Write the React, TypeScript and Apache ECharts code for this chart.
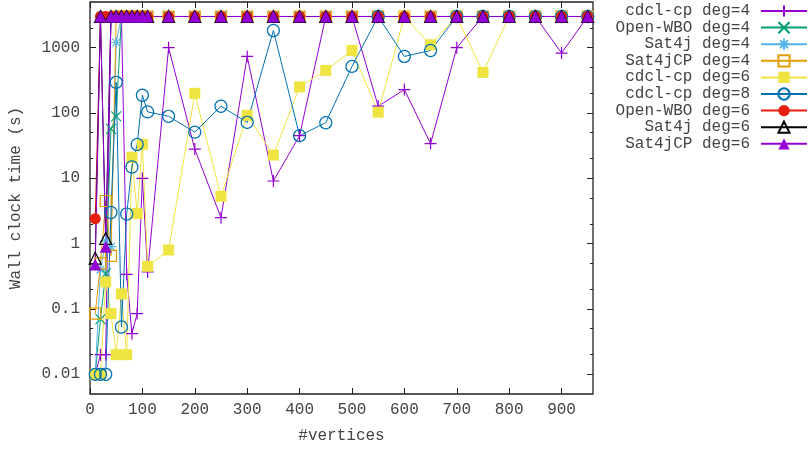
import React, { useEffect, useRef } from 'react';
import * as echarts from 'echarts';

const FONT = "'Courier New', 'Liberation Mono', monospace";
const TEXT = '#444444';
const TO = 3000; // timeout value

const vertices = [10, 20, 30, 40, 50, 60, 70, 80, 90, 100, 110, 150, 200, 250, 300, 350, 400, 450, 500, 550, 600, 650, 700, 750, 800, 850, 900, 950];

const cdclDeg4 = [0.01, 0.02, 0.02, TO, TO, TO, 0.34, 0.042, 0.085, 10, 0.37, 1000, 28, 2.5, 734, 9.1, 45, TO, TO, 127, 228, 34, 1000, TO, TO, TO, 827, TO];
const openWboDeg4 = [0.01, 0.07, 0.35, 57, 89, TO, TO, TO, TO, TO, TO, TO, TO, TO, TO, TO, TO, TO, TO, TO, TO, TO, TO, TO, TO, TO, TO, TO];
const sat4jDeg4 = [0.01, 0.4, 1.1, 0.9, 1200, TO, TO, TO, TO, TO, TO, TO, TO, TO, TO, TO, TO, TO, TO, TO, TO, TO, TO, TO, TO, TO, TO, TO];
const sat4jcpDeg4 = [0.085, 0.5, 4.5, 0.65, TO, TO, TO, TO, TO, TO, TO, TO, TO, TO, TO, TO, TO, TO, TO, TO, TO, TO, TO, TO, TO, TO, TO, TO];
const cdclDeg6 = [0.01, 0.01, 0.26, 0.085, 0.02, 0.17, 0.02, 21, 2.9, 33, 0.45, 0.8, 200, 5.3, 92, 22.7, 251, 449, 906, 103, TO, 1107, TO, 418, TO, TO, TO, TO];
const cdclDeg8 = [0.01, 0.01, 0.01, 3.0, 295, 0.053, 2.84, 14.9, 33, 187, 104, 89, 51, 127, 72, 1830, 45, 71, 517, TO, 734, 906, TO, TO, TO, TO, TO, TO];
const openWboDeg6 = [2.4, TO, TO, TO, TO, TO, TO, TO, TO, TO, TO, TO, TO, TO, TO, TO, TO, TO, TO, TO, TO, TO, TO, TO, TO, TO, TO, TO];
const sat4jDeg6 = [0.6, TO, 1.2, TO, TO, TO, TO, TO, TO, TO, TO, TO, TO, TO, TO, TO, TO, TO, TO, TO, TO, TO, TO, TO, TO, TO, TO, TO];
const sat4jcpDeg6 = [0.48, TO, 0.9, TO, TO, TO, TO, TO, TO, TO, TO, TO, TO, TO, TO, TO, TO, TO, TO, TO, TO, TO, TO, TO, TO, TO, TO, TO];

const xTicks = [0, 100, 200, 300, 400, 500, 600, 700, 800, 900];
const yMajor = [0.01, 0.1, 1, 10, 100, 1000];
const yMajorLabels = ['0.01', '0.1', '1', '10', '100', '1000'];
const yMinor = [0.02, 0.05, 0.2, 0.5, 2, 5, 20, 50, 200, 500, 2000];

const PLUS = 'path://M5,0L5,10M0,5L10,5';
const CROSS = 'path://M0,0L10,10M0,10L10,0';
const STAR = 'path://M5,0L5,10M0,5L10,5M1.5,1.5L8.5,8.5M1.5,8.5L8.5,1.5';

export default function App() {
  const ref = useRef<HTMLDivElement>(null);
  useEffect(() => {
    const chart = echarts.init(ref.current as HTMLDivElement, null, { renderer: 'svg' });
    const pair = (ys: number[]) => vertices.map((x, i) => [x, ys[i]]);
    const mk = (name: string, ys: number[], color: string, symbol: string, size: number, filled: boolean) => ({
      type: 'line',
      name,
      data: pair(ys),
      symbol,
      symbolSize: size,
      showSymbol: true,
      showAllSymbol: true,
      lineStyle: { color, width: 1 },
      itemStyle: filled
        ? { color, borderWidth: 0 }
        : { color: 'rgba(255,255,255,0)', borderColor: color, borderWidth: 1.2 },
      emphasis: { disabled: true },
      clip: true,
    });
    const tickStyle = { color: '#222', width: 1 };
    const yBase = {
      type: 'log',
      logBase: 10,
      min: 0.005,
      max: 5000,
      axisLine: { show: false },
      splitLine: { show: false },
    };
    chart.setOption({
      animation: false,
      textStyle: { fontFamily: FONT },
      grid: {
        left: 88.5,
        top: 2,
        width: 504.5,
        height: 392,
        show: true,
        borderColor: '#222',
        borderWidth: 1.3,
        backgroundColor: 'transparent',
      },
      legend: {
        orient: 'vertical',
        right: 0,
        top: 3,
        padding: 0,
        align: 'right',
        itemWidth: 46,
        itemHeight: 14,
        itemGap: 0.6,
        selectedMode: false,
        textStyle: { fontFamily: FONT, fontSize: 16, color: TEXT, padding: [0, 6, 0, 0], lineHeight: 16 },
      },
      xAxis: [
        {
          type: 'value',
          min: 0,
          max: 960,
          interval: 100,
          position: 'bottom',
          axisLine: { show: false },
          splitLine: { show: false },
          axisTick: { inside: true, length: 6, lineStyle: tickStyle, customValues: xTicks },
          axisLabel: { customValues: xTicks, color: TEXT, fontFamily: FONT, fontSize: 16, margin: 8 },
          name: '#vertices',
          nameLocation: 'middle',
          nameGap: 34,
          nameTextStyle: { color: TEXT, fontFamily: FONT, fontSize: 16 },
        },
        {
          type: 'value',
          min: 0,
          max: 960,
          interval: 100,
          position: 'top',
          axisLine: { show: false },
          splitLine: { show: false },
          axisTick: { inside: true, length: 6, lineStyle: tickStyle, customValues: xTicks },
          axisLabel: { show: false },
        },
      ],
      yAxis: [
        {
          ...yBase,
          position: 'left',
          axisTick: { inside: true, length: 6, lineStyle: tickStyle, customValues: yMajor },
          axisLabel: {
            customValues: yMajor,
            color: TEXT,
            fontFamily: FONT,
            fontSize: 16,
            margin: 10,
            formatter: (v: number) => {
              const i = yMajor.findIndex((m) => Math.abs(Math.log10(m) - Math.log10(v)) < 1e-6);
              return i >= 0 ? yMajorLabels[i] : '';
            },
          },
          name: 'Wall clock time (s)',
          nameLocation: 'middle',
          nameGap: 66,
          nameTextStyle: { color: TEXT, fontFamily: FONT, fontSize: 16 },
        },
        {
          ...yBase,
          position: 'left',
          axisTick: { inside: true, length: 3, lineStyle: tickStyle, customValues: yMinor },
          axisLabel: { show: false },
        },
        {
          ...yBase,
          position: 'right',
          axisTick: { inside: true, length: 6, lineStyle: tickStyle, customValues: yMajor },
          axisLabel: { show: false },
        },
        {
          ...yBase,
          position: 'right',
          axisTick: { inside: true, length: 3, lineStyle: tickStyle, customValues: yMinor },
          axisLabel: { show: false },
        },
      ],
      series: [
        mk('cdcl-cp deg=4', cdclDeg4, '#9400d3', PLUS, 12, false),
        mk('Open-WBO deg=4', openWboDeg4, '#009e73', CROSS, 10, false),
        mk('Sat4j deg=4', sat4jDeg4, '#56b4e9', STAR, 11, false),
        mk('Sat4jCP deg=4', sat4jcpDeg4, '#e69f00', 'rect', 11, false),
        mk('cdcl-cp deg=6', cdclDeg6, '#f0e442', 'rect', 11, true),
        mk('cdcl-cp deg=8', cdclDeg8, '#0072b2', 'circle', 12, false),
        mk('Open-WBO deg=6', openWboDeg6, '#e51e10', 'circle', 11, true),
        mk('Sat4j deg=6', sat4jDeg6, '#000000', 'triangle', 12, false),
        mk('Sat4jCP deg=6', sat4jcpDeg6, '#9400d3', 'triangle', 12, true),
      ],
    });
    return () => chart.dispose();
  }, []);
  return <div ref={ref} style={{ position: 'fixed', left: 0, top: 0, width: 808, height: 449 }} />;
}
